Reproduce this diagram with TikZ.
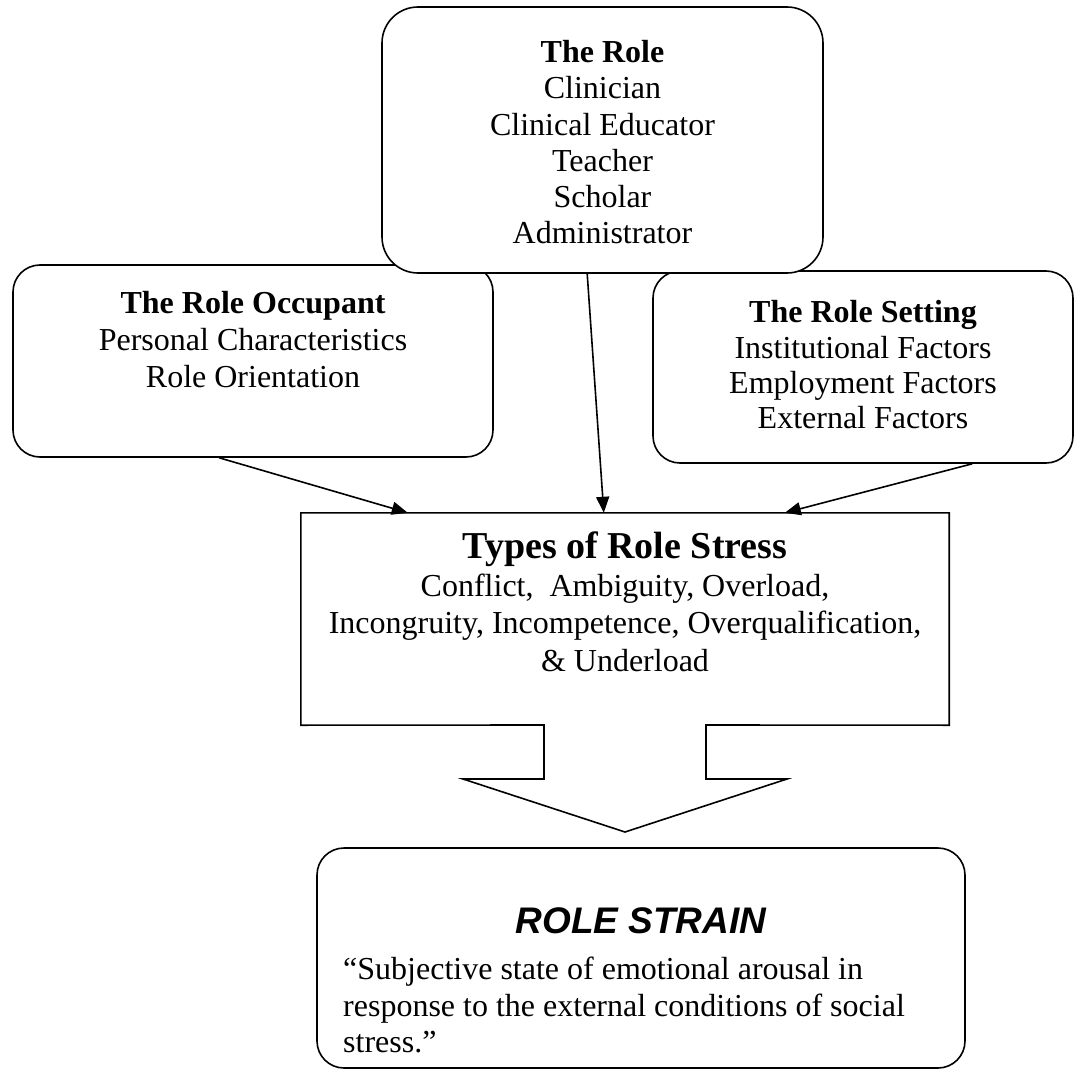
\documentclass[tikz,border=0pt]{standalone}
\usepackage{fontspec}
\setmainfont{Liberation Serif}
\newfontfamily\arialfont{Liberation Sans}
\usetikzlibrary{arrows.meta,calc}
\tikzset{
  rbox/.style={draw=black, line width=1.6pt, rounded corners=27pt, fill=white, inner sep=0pt},
  txt/.style={inner sep=0pt, align=center, anchor=north},
  conn/.style={line width=1.6pt, -{Triangle[length=16pt,width=13pt]}},
  outline/.style={draw=black, line width=1.6pt, line join=miter},
}
\begin{document}
\begin{tikzpicture}[x=1pt,y=-1pt]
\useasboundingbox (0,0) rectangle (1074,1070);
% side boxes
\node[rbox, minimum width=480pt, minimum height=192pt] (occ) at (253,361) {};
\node[rbox, minimum width=420pt, minimum height=192pt] (set) at (863,367) {};
% top box
\node[rbox, rounded corners=36pt, minimum width=441pt, minimum height=266pt] (role) at (602.5,140) {};
% texts
\node[txt, font=\fontsize{32}{36.2}\selectfont] (roletxt) at (602.5,40.3)
  {\textbf{The Role}\\Clinician\\Clinical Educator\\Teacher\\Scholar\\Administrator};
\node[txt, font=\fontsize{32}{37}\selectfont] (occtxt) at (253,291.3)
  {\textbf{The Role Occupant}\\Personal Characteristics\\Role Orientation};
\node[txt, font=\fontsize{32}{35.4}\selectfont] (settxt) at (863,300.3)
  {\textbf{The Role Setting}\\Institutional Factors\\Employment Factors\\External Factors};
% types of role stress
\node[draw=none, minimum width=648pt, minimum height=212pt, inner sep=0pt] (types) at (625,619) {};
\draw[outline] (types.north west) -- (types.north east) -- (types.south east)
  -- (706,725) -- (706,779) -- (787,779) -- (625,832) -- (463,779) -- (544,779)
  -- (544,725) -- (types.south west) -- cycle;
\node[txt, font=\fontsize{32}{37.4}\selectfont] (typestxt) at (625,532)
  {{\fontsize{38}{37}\selectfont\bfseries Types of Role Stress}\\Conflict,\ \ Ambiguity, Overload,\\Incongruity, Incompetence, Overqualification,\\\& Underload};
% role strain
\node[rbox, minimum width=648pt, minimum height=220pt] (strain) at (641,958) {};
\node[inner sep=0pt, anchor=base, font=\arialfont\bfseries\itshape\fontsize{37}{37}\selectfont] (straintitle) at (641,933) {ROLE STRAIN};
\node[inner sep=0pt, align=left, anchor=north west, font=\fontsize{32}{36.5}\selectfont] (quote) at (343,957)
  {“Subjective state of emotional arousal in\\response to the external conditions of social\\stress.”};
% connectors
\draw[conn] ($(occ.south west)+(207,0)$) -- ($(types.north west)+(107,0)$);
\draw[conn] ($(role.south west)+(206,0)$) -- ($(types.north west)+(303,0)$);
\draw[conn] ($(set.south west)+(320,0)$) -- ($(types.north west)+(484,0)$);
\end{tikzpicture}
\end{document}
